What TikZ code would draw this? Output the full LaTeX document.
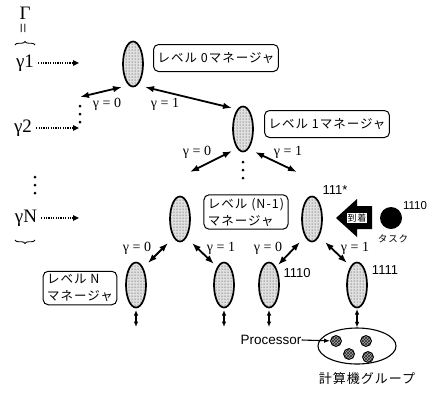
\documentclass[tikz,border=0pt]{standalone}
\usepackage{fontspec}
\setmainfont{Liberation Serif}
\newfontfamily\jp[LetterSpace=8]{Noto Sans CJK JP}
\newfontfamily\hv{Liberation Sans}
\usetikzlibrary{shapes.geometric,arrows.meta,patterns,decorations.pathreplacing,calc}
\begin{document}
\begin{tikzpicture}[x=1pt,y=-1pt,
  mgr/.style={ellipse, draw, line width=1.7pt, minimum width=20pt, minimum height=45pt, inner sep=0pt, preaction={fill=black!12}, pattern=dots, pattern color=black!85},
  lbl/.style={draw, rounded corners=5pt, line width=1pt, font=\jp\fontsize{12.5}{17}\selectfont, align=left, inner xsep=4pt, inner ysep=3pt},
  dbl/.style={{Latex[length=9pt,width=6.5pt]}-{Latex[length=9pt,width=6.5pt]}, line width=1.8pt},
  sml/.style={{Latex[length=5.5pt,width=4.5pt]}-{Latex[length=5.5pt,width=4.5pt]}, line width=1.4pt},
  gam/.style={font=\fontsize{14}{15}\selectfont, inner sep=0pt},
  num/.style={font=\hv\fontsize{13}{15}\selectfont, inner sep=0pt},
  lev/.style={font=\fontsize{19}{20}\selectfont, inner sep=0pt},
  dotarr/.style={-{Triangle[length=6pt,width=5.5pt]}, line width=1.6pt, dash pattern=on 1.2pt off 1.2pt},
  proc/.style={circle, draw, line width=0.8pt, minimum size=11pt, inner sep=0pt, preaction={fill=black!35}, pattern=crosshatch, pattern color=black!85},
]
\useasboundingbox (0,0) rectangle (435,392);

% left column
\node[font=\fontsize{19}{20}\selectfont, inner sep=0pt] (Gam) at (25,13) {Γ};
\node[rotate=90, font=\fontsize{18}{18}\selectfont, inner sep=0pt] (eq) at (25,28) {=};
\draw[decorate, decoration={brace, amplitude=3.5pt}, line width=0.9pt] (15,45) -- (35,45);
\node[lev] (g1) at (25,63) {γ1};
\node[lev] (g2) at (23,128) {γ2};
\node[lev] (gN) at (26,218) {γN};
\foreach \yy in {177,185,193} \fill (35,\yy) circle (1.5pt);
\draw[decorate, decoration={brace, amplitude=3.5pt}, line width=0.9pt] (35,240) -- (15,240);

\coordinate (a1) at (79,63);
\coordinate (a2) at (79,128);
\coordinate (a3) at (79,218);
\draw[dotarr] ([xshift=4pt]g1.east) -- (a1);
\draw[dotarr] ([xshift=4pt]g2.east) -- (a2);
\draw[dotarr] ([xshift=4pt]gN.east) -- (a3);

% managers
\node[mgr] (E0) at (133,64) {};
\node[mgr] (E1) at (243,129) {};
\node[mgr] (L) at (180,219) {};
\node[mgr] (R) at (312,219) {};
\node[mgr] (N1) at (136,285) {};
\node[mgr] (N2) at (224,285) {};
\node[mgr] (N3) at (269,285) {};
\node[mgr] (N4) at (357,285) {};

% labels
\node[lbl, minimum height=27pt] (B0) at (216,58) {レベル 0マネージャ};
\node[lbl, minimum height=27pt] (B1) at (327,124) {レベル 1マネージャ};
\node[lbl] (BNm1) at (246,212) {レベル (N-1)\\マネージャ};
\node[lbl] (BN) at (80,288) {レベル N\\マネージャ};

% tree connectors
\coordinate (cA) at (80,97);
\coordinate (cB) at (190,172);
\coordinate (cC) at (297,172);
\draw[dbl] ($(E0)+(-11,23)$) -- (cA);
\foreach \yy in {106,114,122} \fill (80,\yy) circle (1.5pt);
\draw[dbl] ($(E0)+(12,23)$) -- ($(E1)+(-11,-21)$);
\draw[dbl] ($(E1)+(-11,22)$) -- (cB);
\draw[dbl] ($(E1)+(12,23)$) -- (cC);
\foreach \yy in {162,170,178} \fill (243,\yy) circle (1.5pt);
\draw[dbl] ($(L)+(-12,24)$) -- ($(N1)+(12,-22)$);
\draw[dbl] ($(L)+(12,24)$) -- ($(N2)+(-10,-21)$);
\draw[dbl] ($(R)+(-12,23)$) -- ($(N3)+(9,-20)$);
\draw[dbl] ($(R)+(13,23)$) -- ($(N4)+(-10,-22)$);

\node[gam] (t1) at (107,104) {γ = 0};
\node[gam] (t2) at (165,104) {γ = 1};
\node[gam] (t3) at (197,152) {γ = 0};
\node[gam] (t4) at (288,152) {γ = 1};
\node[gam] (t5) at (137,248) {γ = 0};
\node[gam] (t6) at (221,248) {γ = 1};
\node[gam] (t7) at (268,248) {γ = 0};
\node[gam] (t8) at (355,248) {γ = 1};

% numbers
\node[num] (n111) at (335,190) {111*};
\node[num] (n1110) at (297,273) {1110};
\node[num] (n1111) at (385,270) {1111};

% bottom small arrows
\coordinate (d1) at (136,327);
\coordinate (d2) at (224,327);
\coordinate (d3) at (269,327);
\draw[sml] ($(N1)+(0,25)$) -- (d1);
\draw[sml] ($(N2)+(0,25)$) -- (d2);
\draw[sml] ($(N3)+(0,25)$) -- (d3);

% arrival arrow and task
\fill (336,218) -- (357,199) -- (357,206) -- (372,206) -- (372,229) -- (357,229) -- (357,237) -- cycle;
\node[fill=white, inner xsep=1pt, inner ysep=1pt, font=\jp\fontsize{9}{10}\selectfont] (arr) at (357,218) {到着};
\node[circle, fill=black, minimum size=22pt, inner sep=0pt] (T) at (391,218) {};
\node[font=\hv\fontsize{11.5}{12}\selectfont, inner sep=0pt] (T1110) at (415,206) {1110};
\node[font=\jp\fontsize{9.5}{10}\selectfont, inner sep=0pt] (Tl) at (393,239) {タスク};

% computer group
\node[ellipse, draw, line width=1.1pt, minimum width=78pt, minimum height=36pt] (grp) at (357,346) {};
\node[proc] (p1) at (336,341) {};
\node[proc] (p2) at (366,341) {};
\node[proc] (p3) at (349,354) {};
\node[proc] (p4) at (368,357) {};
\node[font=\hv\fontsize{13.5}{15}\selectfont, inner sep=0pt] (pl) at (271,340) {Processor};
\draw[-{Latex[length=6pt,width=4.5pt]}, line width=1.1pt] (pl.east) -- (p1);
\draw[sml] ($(N4)+(0,24)$) -- (grp.north);
\node[font=\jp\fontsize{13}{14}\selectfont, inner sep=0pt] (gl) at (367,379) {計算機グループ};
\end{tikzpicture}
\end{document}
